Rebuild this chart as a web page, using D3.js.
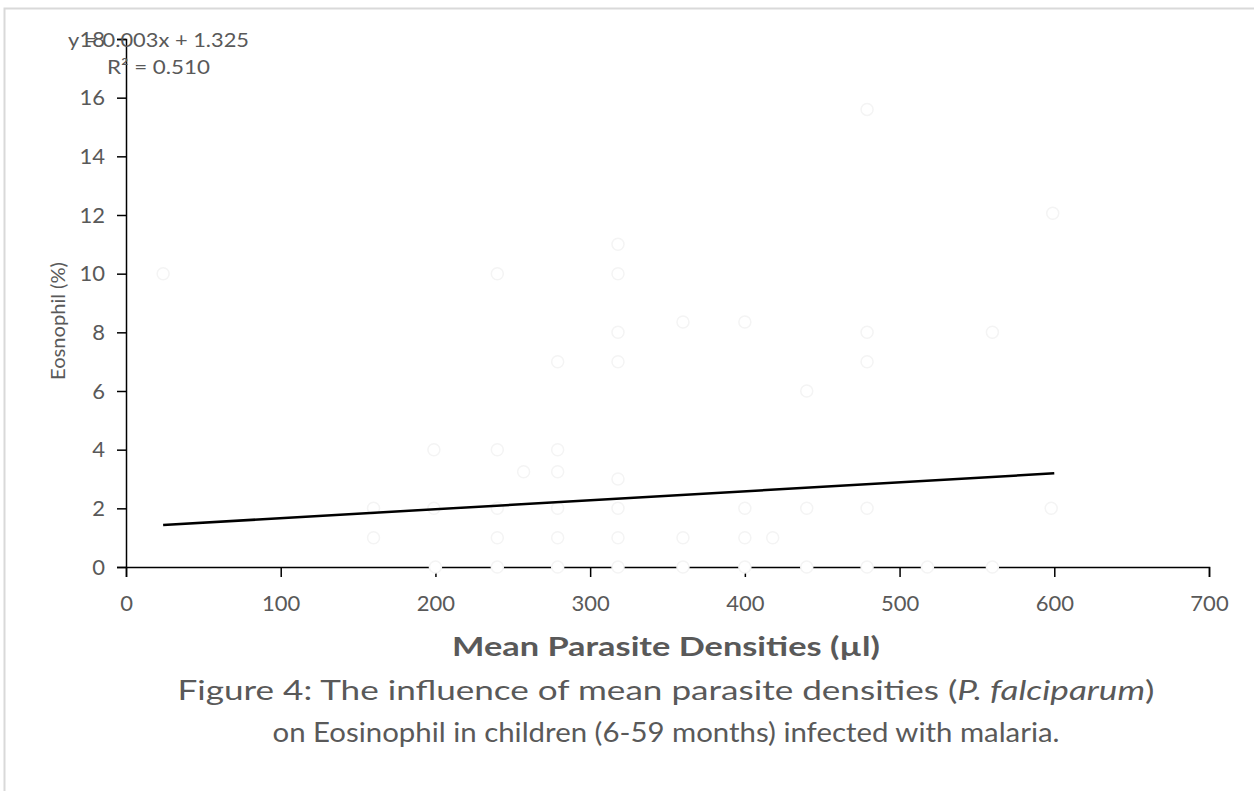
<!DOCTYPE html>
<html>
<head>
<meta charset="utf-8">
<script src="https://cdn.jsdelivr.net/npm/d3@7"></script>
<style>
  html, body { margin: 0; padding: 0; background: #fff; }
  svg text { font-family: Lato, "Open Sans", sans-serif; fill: #595959; }
</style>
</head>
<body>
<svg id="chart" width="1254" height="791"></svg>
<script>
// ---- data ----
const xValues = [24, 160, 160, 199, 199, 200, 240, 240, 240, 240, 240, 257, 279, 279, 279, 279, 279, 279,
                 318, 318, 318, 318, 318, 318, 318, 318, 360, 360, 360, 400, 400, 400, 400, 418,
                 440, 440, 440, 479, 479, 479, 479, 479, 518, 560, 560, 599, 598];
const yValues = [10, 2, 1, 4, 2, 0, 10, 4, 2, 1, 0, 3.25, 4, 3.25, 2, 1, 0, 7,
                 11, 10, 8, 7, 3, 2, 1, 0, 8.35, 1, 0, 8.35, 2, 1, 0, 1,
                 6, 2, 0, 15.6, 8, 7, 2, 0, 0, 8, 0, 12.06, 2];
const xTicks = [0, 100, 200, 300, 400, 500, 600, 700];
const yTicks = [0, 2, 4, 6, 8, 10, 12, 14, 16, 18];
const trendSlope = 0.00306;
const trendIntercept = 1.358;
const trendRange = [24, 600];
const equationLines = ["y = 0.003x + 1.325", "R² = 0.510"];
const xTitle = "Mean Parasite Densities (µl)";
const yTitle = "Eosnophil (%)";

const svg = d3.select("#chart");

// outer frame
svg.append("rect").attr("x", 4.5).attr("y", 8.5).attr("width", 1300).attr("height", 900)
  .attr("fill", "none").attr("stroke", "#d9d9d9").attr("stroke-width", 2);

const x = d3.scaleLinear().domain([0, 700]).range([126, 1209]);
const y = d3.scaleLinear().domain([0, 18]).range([567, 39]);

// y axis
const yAxis = svg.append("g").attr("transform", `translate(${x(0)},0)`)
  .call(d3.axisLeft(y).tickValues(yTicks).tickSize(9).tickPadding(12).tickFormat(d3.format("d")));
yAxis.selectAll("path, line").attr("stroke", "#000").attr("stroke-width", 1.5);
yAxis.selectAll("text").attr("font-size", 22).attr("fill", "#595959")
  .style("font-family", "Lato, sans-serif");

// x axis
const xAxis = svg.append("g").attr("transform", `translate(0,${y(0)})`)
  .call(d3.axisBottom(x).tickValues(xTicks).tickSize(10).tickPadding(18).tickFormat(d3.format("d")));
xAxis.selectAll("path, line").attr("stroke", "#000").attr("stroke-width", 1.5);
xAxis.selectAll("text").attr("font-size", 22).attr("fill", "#595959")
  .style("font-family", "Lato, sans-serif");

// points (very faint hollow markers)
const pts = xValues.map((v, i) => ({ x: v, y: yValues[i] }));
svg.append("g").selectAll("circle").data(pts).join("circle")
  .attr("cx", d => x(d.x)).attr("cy", d => y(d.y)).attr("r", 6)
  .attr("fill", "#fff").attr("stroke", "#f4f4f4").attr("stroke-width", 1.5);

// trend line
const line = d3.line().x(d => x(d)).y(d => y(trendSlope * d + trendIntercept));
svg.append("path").datum(trendRange).attr("d", line)
  .attr("fill", "none").attr("stroke", "#000").attr("stroke-width", 2.5);

// equation
svg.append("text").attr("x", 68).attr("y", 47).attr("font-size", 19)
  .attr("textLength", 181).attr("lengthAdjust", "spacingAndGlyphs").text(equationLines[0]);
svg.append("text").attr("x", 107).attr("y", 74).attr("font-size", 19)
  .attr("textLength", 103).attr("lengthAdjust", "spacingAndGlyphs").text(equationLines[1]);

// y title
svg.append("text").attr("transform", "translate(65,321) rotate(-90)")
  .attr("text-anchor", "middle").attr("font-size", 20)
  .attr("textLength", 118).attr("lengthAdjust", "spacingAndGlyphs").text(yTitle);

// x title
svg.append("text").attr("x", 666).attr("y", 656).attr("text-anchor", "middle")
  .attr("font-size", 27).attr("font-weight", "bold")
  .attr("textLength", 428).attr("lengthAdjust", "spacingAndGlyphs").text(xTitle);

// caption
const cap1 = svg.append("text").attr("x", 666).attr("y", 700).attr("text-anchor", "middle")
  .attr("font-size", 27).attr("textLength", 977).attr("lengthAdjust", "spacingAndGlyphs");
cap1.append("tspan").text("Figure 4: The influence of mean parasite densities (");
cap1.append("tspan").attr("font-style", "italic").text("P. falciparum");
cap1.append("tspan").text(")");
svg.append("text").attr("x", 666).attr("y", 742).attr("text-anchor", "middle")
  .attr("font-size", 27).attr("textLength", 787).attr("lengthAdjust", "spacingAndGlyphs")
  .text("on Eosinophil  in children (6-59 months) infected with malaria.");
</script>
</body>
</html>
